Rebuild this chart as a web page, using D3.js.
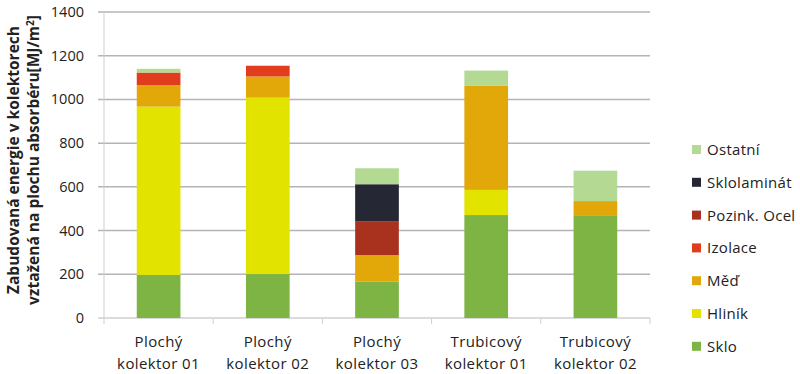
<!DOCTYPE html>
<html>
<head>
<meta charset="utf-8">
<script src="https://cdn.jsdelivr.net/npm/d3@7"></script>
<style>
  body { margin: 0; background: #fff; }
  text { font-family: "Open Sans", sans-serif; fill: #222; }
</style>
</head>
<body>
<script>
// categories (two line labels)
var categories = ["Plochý|kolektor 01", "Plochý|kolektor 02", "Plochý|kolektor 03", "Trubicový|kolektor 01", "Trubicový|kolektor 02"];
var seriesNames = ["Sklo", "Hliník", "Měď", "Izolace", "Pozink. Ocel", "Sklolaminát", "Ostatní"];
var seriesColors = ["#7db443", "#e3e300", "#e2a80a", "#e23c1e", "#a8321e", "#262734", "#b4d993"];

var sklo        = [197, 201, 166, 471, 467];
var hlinik      = [770, 807, 0, 115, 0];
var med         = [99, 97, 122, 476, 68];
var izolace     = [57, 48, 0, 0, 0];
var pozinkOcel  = [0, 0, 153, 0, 0];
var sklolaminat = [0, 0, 171, 0, 0];
var ostatni     = [17, 3, 73, 70, 139];

var yTicks = [0, 200, 400, 600, 800, 1000, 1200, 1400];

var w = 800, h = 374;
var mLeft = 104, mRight = 650, mTop = 12, mBottom = 318;

var svg = d3.select("body").append("svg")
    .attr("width", w)
    .attr("height", h);

var allSeries = [sklo, hlinik, med, izolace, pozinkOcel, sklolaminat, ostatni];
var table = categories.map(function(c, i) {
  var row = { cat: c };
  seriesNames.forEach(function(s, j) { row[s] = allSeries[j][i]; });
  return row;
});
var stacked = d3.stack().keys(seriesNames)(table);

var x = d3.scaleBand().domain(categories).range([mLeft, mRight]).paddingInner(0.6).paddingOuter(0.3);
var y = d3.scaleLinear().domain([0, 1400]).range([mBottom, mTop]);

// gridlines (extend a little left as tick marks)
svg.selectAll("line.grid")
   .data(yTicks)
   .enter()
   .append("line")
   .attr("x1", mLeft - 6)
   .attr("x2", mRight)
   .attr("y1", function(d) { return y(d); })
   .attr("y2", function(d) { return y(d); })
   .attr("stroke", function(d) { return d === 0 ? "#cfcfcf" : "#b4b4b4"; })
   .attr("stroke-width", 1.5);

// left axis line
svg.append("line")
   .attr("x1", mLeft).attr("x2", mLeft)
   .attr("y1", mTop).attr("y2", mBottom)
   .attr("stroke", "#cfcfcf").attr("stroke-width", 1);

// x tick marks at category boundaries
var bounds = d3.range(categories.length + 1).map(function(i) { return mLeft + i * (mRight - mLeft) / categories.length; });
svg.selectAll("line.xt")
   .data(bounds)
   .enter()
   .append("line")
   .attr("x1", function(d) { return d; })
   .attr("x2", function(d) { return d; })
   .attr("y1", mBottom)
   .attr("y2", mBottom + 6)
   .attr("stroke", "#cfcfcf").attr("stroke-width", 1);

// y tick labels
svg.selectAll("text.yl")
   .data(yTicks)
   .enter()
   .append("text")
   .text(function(d) { return d; })
   .attr("x", mLeft - 20)
   .attr("y", function(d) { return y(d) + 5; })
   .attr("text-anchor", "end")
   .attr("font-size", "14.5px")
   .attr("fill", "#333");

// bars
var groups = svg.selectAll("g.layer")
   .data(stacked)
   .enter()
   .append("g")
   .attr("fill", function(d, i) { return seriesColors[i]; });

groups.selectAll("rect")
   .data(function(d) { return d.filter(function(p) { return p[1] - p[0] > 0; }); })
   .enter()
   .append("rect")
   .attr("x", function(d) { return x(d.data.cat); })
   .attr("y", function(d) { return y(d[1]); })
   .attr("width", x.bandwidth())
   .attr("height", function(d) { return y(d[0]) - y(d[1]); });

// x labels
categories.forEach(function(c) {
  var parts = c.split("|");
  var cx = x(c) + x.bandwidth() / 2;
  svg.append("text")
     .attr("x", cx).attr("y", 347)
     .attr("text-anchor", "middle")
     .attr("font-size", "15px")
     .attr("letter-spacing", "0.4px")
     .text(parts[0]);
  svg.append("text")
     .attr("x", cx).attr("y", 369)
     .attr("text-anchor", "middle")
     .attr("font-size", "15px")
     .attr("letter-spacing", "0.4px")
     .text(parts[1]);
});

// y axis title
var title = svg.append("text")
   .attr("transform", "translate(19,160) rotate(-90)")
   .attr("text-anchor", "middle")
   .attr("font-size", "15.5px")
   .attr("font-weight", "bold");
title.append("tspan").attr("x", 0).attr("dy", 0).text("Zabudovaná energie v kolektorech");
var line2 = title.append("tspan").attr("x", 0).attr("dy", 20);
line2.append("tspan").text("vztažená na plochu absorbéru[MJ/m");
line2.append("tspan").attr("dy", -5).attr("font-size", "10px").text("2");
line2.append("tspan").attr("dy", 5).text("]");

// legend (reverse order, Ostatní on top)
var legendData = seriesNames.slice().reverse();
var leg = svg.selectAll("g.leg")
   .data(legendData)
   .enter()
   .append("g")
   .attr("transform", function(d, i) { return "translate(692," + (150 + i * 32.8) + ")"; });

leg.append("rect")
   .attr("x", 0).attr("y", -5)
   .attr("width", 9).attr("height", 9)
   .attr("fill", function(d) { return seriesColors[seriesNames.indexOf(d)]; });

leg.append("text")
   .attr("x", 15).attr("y", 5)
   .attr("font-size", "15px")
   .attr("letter-spacing", "0.3px")
   .text(function(d) { return d; });
</script>
</body>
</html>
